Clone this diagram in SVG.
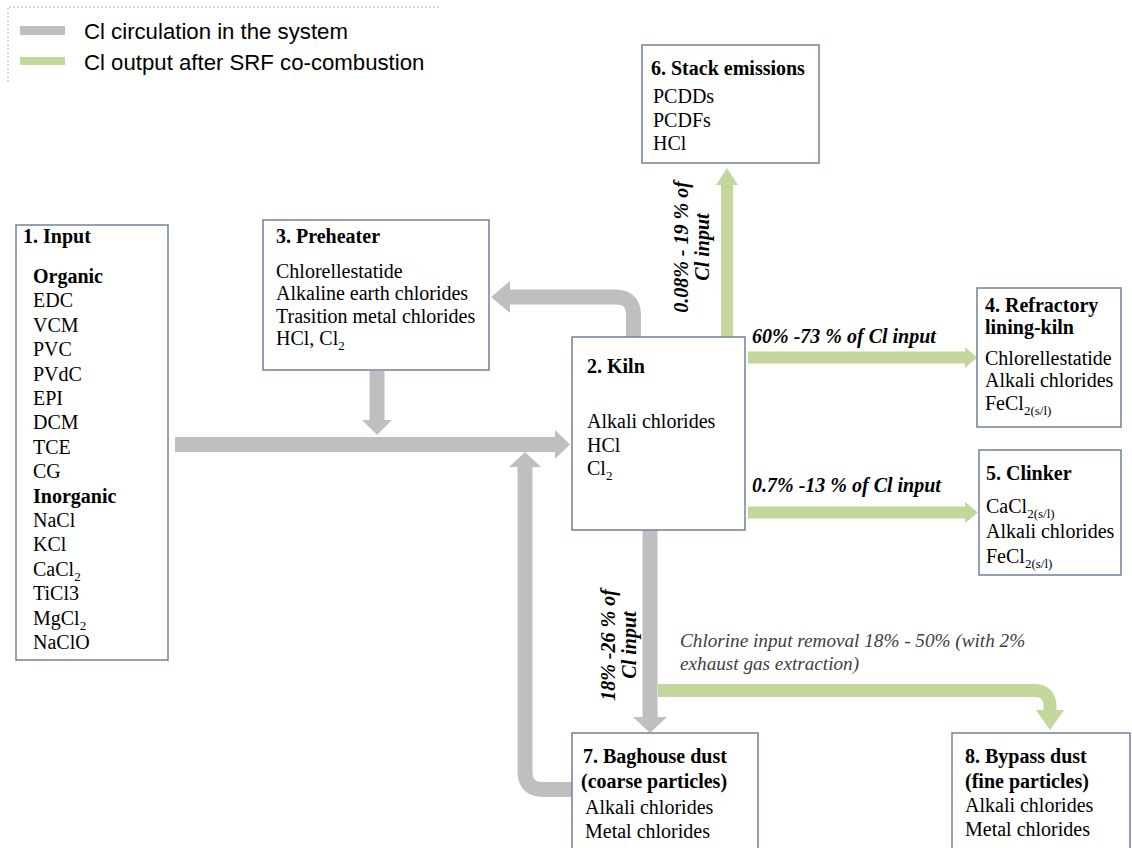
<svg xmlns="http://www.w3.org/2000/svg" width="1132" height="848" viewBox="0 0 1132 848">
<style>
.box{fill:#fff;stroke:#71829c;stroke-width:1.5}
.t{font-family:"Liberation Serif",serif;font-size:20px;fill:#000}
.b{font-weight:bold}
.lbl{font-family:"Liberation Serif",serif;font-size:20px;font-weight:bold;font-style:italic;fill:#000}
.it{font-family:"Liberation Serif",serif;font-size:19.2px;font-style:italic;fill:#404040}
.leg{font-family:"Liberation Sans",Arial,sans-serif;font-size:22.2px;fill:#000}
.g{fill:none;stroke:#bfbfbf;stroke-width:15}
.gh{fill:#bfbfbf}
.v{fill:none;stroke:#c3d69b;stroke-width:12}
.vh{fill:#c3d69b}
</style>
<g id="legend">
<path d="M8 82 V7 H440" fill="none" stroke="#b0b0b0" stroke-width="1" stroke-dasharray="2 2"/>
<rect x="20" y="26" width="45" height="9" fill="#bfbfbf"/>
<rect x="20" y="57" width="45" height="8" fill="#c3d69b"/>
<text class="leg" x="84" y="39">Cl circulation in the system</text>
<text class="leg" x="84" y="70">Cl output after SRF co-combustion</text>
</g>
<g id="connectors">
<path class="g" d="M175 444.5 H555"/>
<polygon class="gh" points="555,430 570,444.5 555,459"/>
<path class="g" d="M377 371 V420"/>
<polygon class="gh" points="362,420 377,435 392,420"/>
<path class="g" d="M572 789.5 H543 Q525 789.5 525 771.5 V467"/>
<polygon class="gh" points="509,467 525,452 541,467"/>
<path class="g" d="M633.5 337 V315 Q633.5 297 615.5 297 H510"/>
<polygon class="gh" points="510,281 491,297 510,313"/>
<path class="g" d="M650 530 V717"/>
<polygon class="gh" points="633,717 650,733 667,717"/>
<path class="v" d="M727 337 V185"/>
<polygon class="vh" points="716,185 727,168 738,185"/>
<path class="v" d="M748 357.5 H965"/>
<polygon class="vh" points="965,347 977,357.5 965,368"/>
<path class="v" d="M748 512.5 H965"/>
<polygon class="vh" points="965,502 978,512.5 965,523"/>
<path class="v" d="M658 690.5 H1034 Q1050 690.5 1050 706.5 V710" style="stroke-width:13"/>
<polygon class="vh" points="1036,710 1050,730 1064,710"/>
<text class="lbl" transform="translate(688,247) rotate(-90)" text-anchor="middle">0.08% - 19 % of</text>
<text class="lbl" transform="translate(709,247) rotate(-90)" text-anchor="middle">Cl input</text>
<text class="lbl" transform="translate(615,645) rotate(-90)" text-anchor="middle">18% -26 % of</text>
<text class="lbl" transform="translate(636,645) rotate(-90)" text-anchor="middle">Cl input</text>
<text class="lbl" x="752" y="343">60% -73 % of Cl input</text>
<text class="lbl" x="752" y="492">0.7% -13 % of Cl input</text>
<text class="it" x="680" y="647">Chlorine input removal 18% - 50% (with 2%</text>
<text class="it" x="680" y="670">exhaust gas extraction)</text>
</g>
<g id="n1">
<rect class="box" x="16" y="225" width="152" height="435"/>
<text class="t b" x="23" y="243">1. Input</text>
<text class="t b" x="33" y="283">Organic</text>
<text class="t" x="33" y="307.4">EDC</text>
<text class="t" x="33" y="331.8">VCM</text>
<text class="t" x="33" y="356.2">PVC</text>
<text class="t" x="33" y="380.6">PVdC</text>
<text class="t" x="33" y="405">EPI</text>
<text class="t" x="33" y="429.4">DCM</text>
<text class="t" x="33" y="453.8">TCE</text>
<text class="t" x="33" y="478.2">CG</text>
<text class="t b" x="33" y="502.6">Inorganic</text>
<text class="t" x="33" y="527">NaCl</text>
<text class="t" x="33" y="551.4">KCl</text>
<text class="t" x="33" y="575.8">CaCl<tspan font-size="13" dy="5">2</tspan></text>
<text class="t" x="33" y="600.2">TiCl3</text>
<text class="t" x="33" y="624.6">MgCl<tspan font-size="13" dy="5">2</tspan></text>
<text class="t" x="33" y="649">NaClO</text>
</g>
<g id="n2">
<rect class="box" x="572" y="337" width="173" height="193"/>
<text class="t b" x="587" y="373">2. Kiln</text>
<text class="t" x="587" y="428">Alkali chlorides</text>
<text class="t" x="587" y="452">HCl</text>
<text class="t" x="587" y="475">Cl<tspan font-size="13" dy="5">2</tspan></text>
</g>
<g id="n3">
<rect class="box" x="263" y="220" width="226" height="150"/>
<text class="t b" x="276" y="243">3. Preheater</text>
<text class="t" x="276" y="278">Chlorellestatide</text>
<text class="t" x="276" y="300">Alkaline earth chlorides</text>
<text class="t" x="276" y="323">Trasition metal chlorides</text>
<text class="t" x="276" y="345">HCl, Cl<tspan font-size="13" dy="5">2</tspan></text>
</g>
<g id="n4">
<rect class="box" x="977" y="288" width="144" height="139"/>
<text class="t b" x="985" y="312">4. Refractory</text>
<text class="t b" x="985" y="334">lining-kiln</text>
<text class="t" x="985" y="365">Chlorellestatide</text>
<text class="t" x="985" y="387">Alkali chlorides</text>
<text class="t" x="985" y="410">FeCl<tspan font-size="13" dy="5">2(s/l)</tspan></text>
</g>
<g id="n5">
<rect class="box" x="979" y="450" width="142" height="125"/>
<text class="t b" x="986" y="480">5. Clinker</text>
<text class="t" x="986" y="513">CaCl<tspan font-size="13" dy="5">2(s/l)</tspan></text>
<text class="t" x="986" y="538">Alkali chlorides</text>
<text class="t" x="986" y="563">FeCl<tspan font-size="13" dy="5">2(s/l)</tspan></text>
</g>
<g id="n6">
<rect class="box" x="642" y="45" width="177" height="118"/>
<text class="t b" x="651" y="75">6. Stack emissions</text>
<text class="t" x="653" y="103">PCDDs</text>
<text class="t" x="653" y="127">PCDFs</text>
<text class="t" x="653" y="150">HCl</text>
</g>
<g id="n7">
<rect class="box" x="572" y="733" width="186" height="120"/>
<text class="t b" x="583" y="763">7. Baghouse dust</text>
<text class="t b" x="581" y="788">(coarse particles)</text>
<text class="t" x="585" y="814">Alkali chlorides</text>
<text class="t" x="585" y="838">Metal chlorides</text>
</g>
<g id="n8">
<rect class="box" x="952" y="733" width="178" height="120"/>
<text class="t b" x="965" y="763">8. Bypass dust</text>
<text class="t b" x="965" y="788">(fine particles)</text>
<text class="t" x="965" y="812">Alkali chlorides</text>
<text class="t" x="965" y="836">Metal chlorides</text>
</g>
</svg>
